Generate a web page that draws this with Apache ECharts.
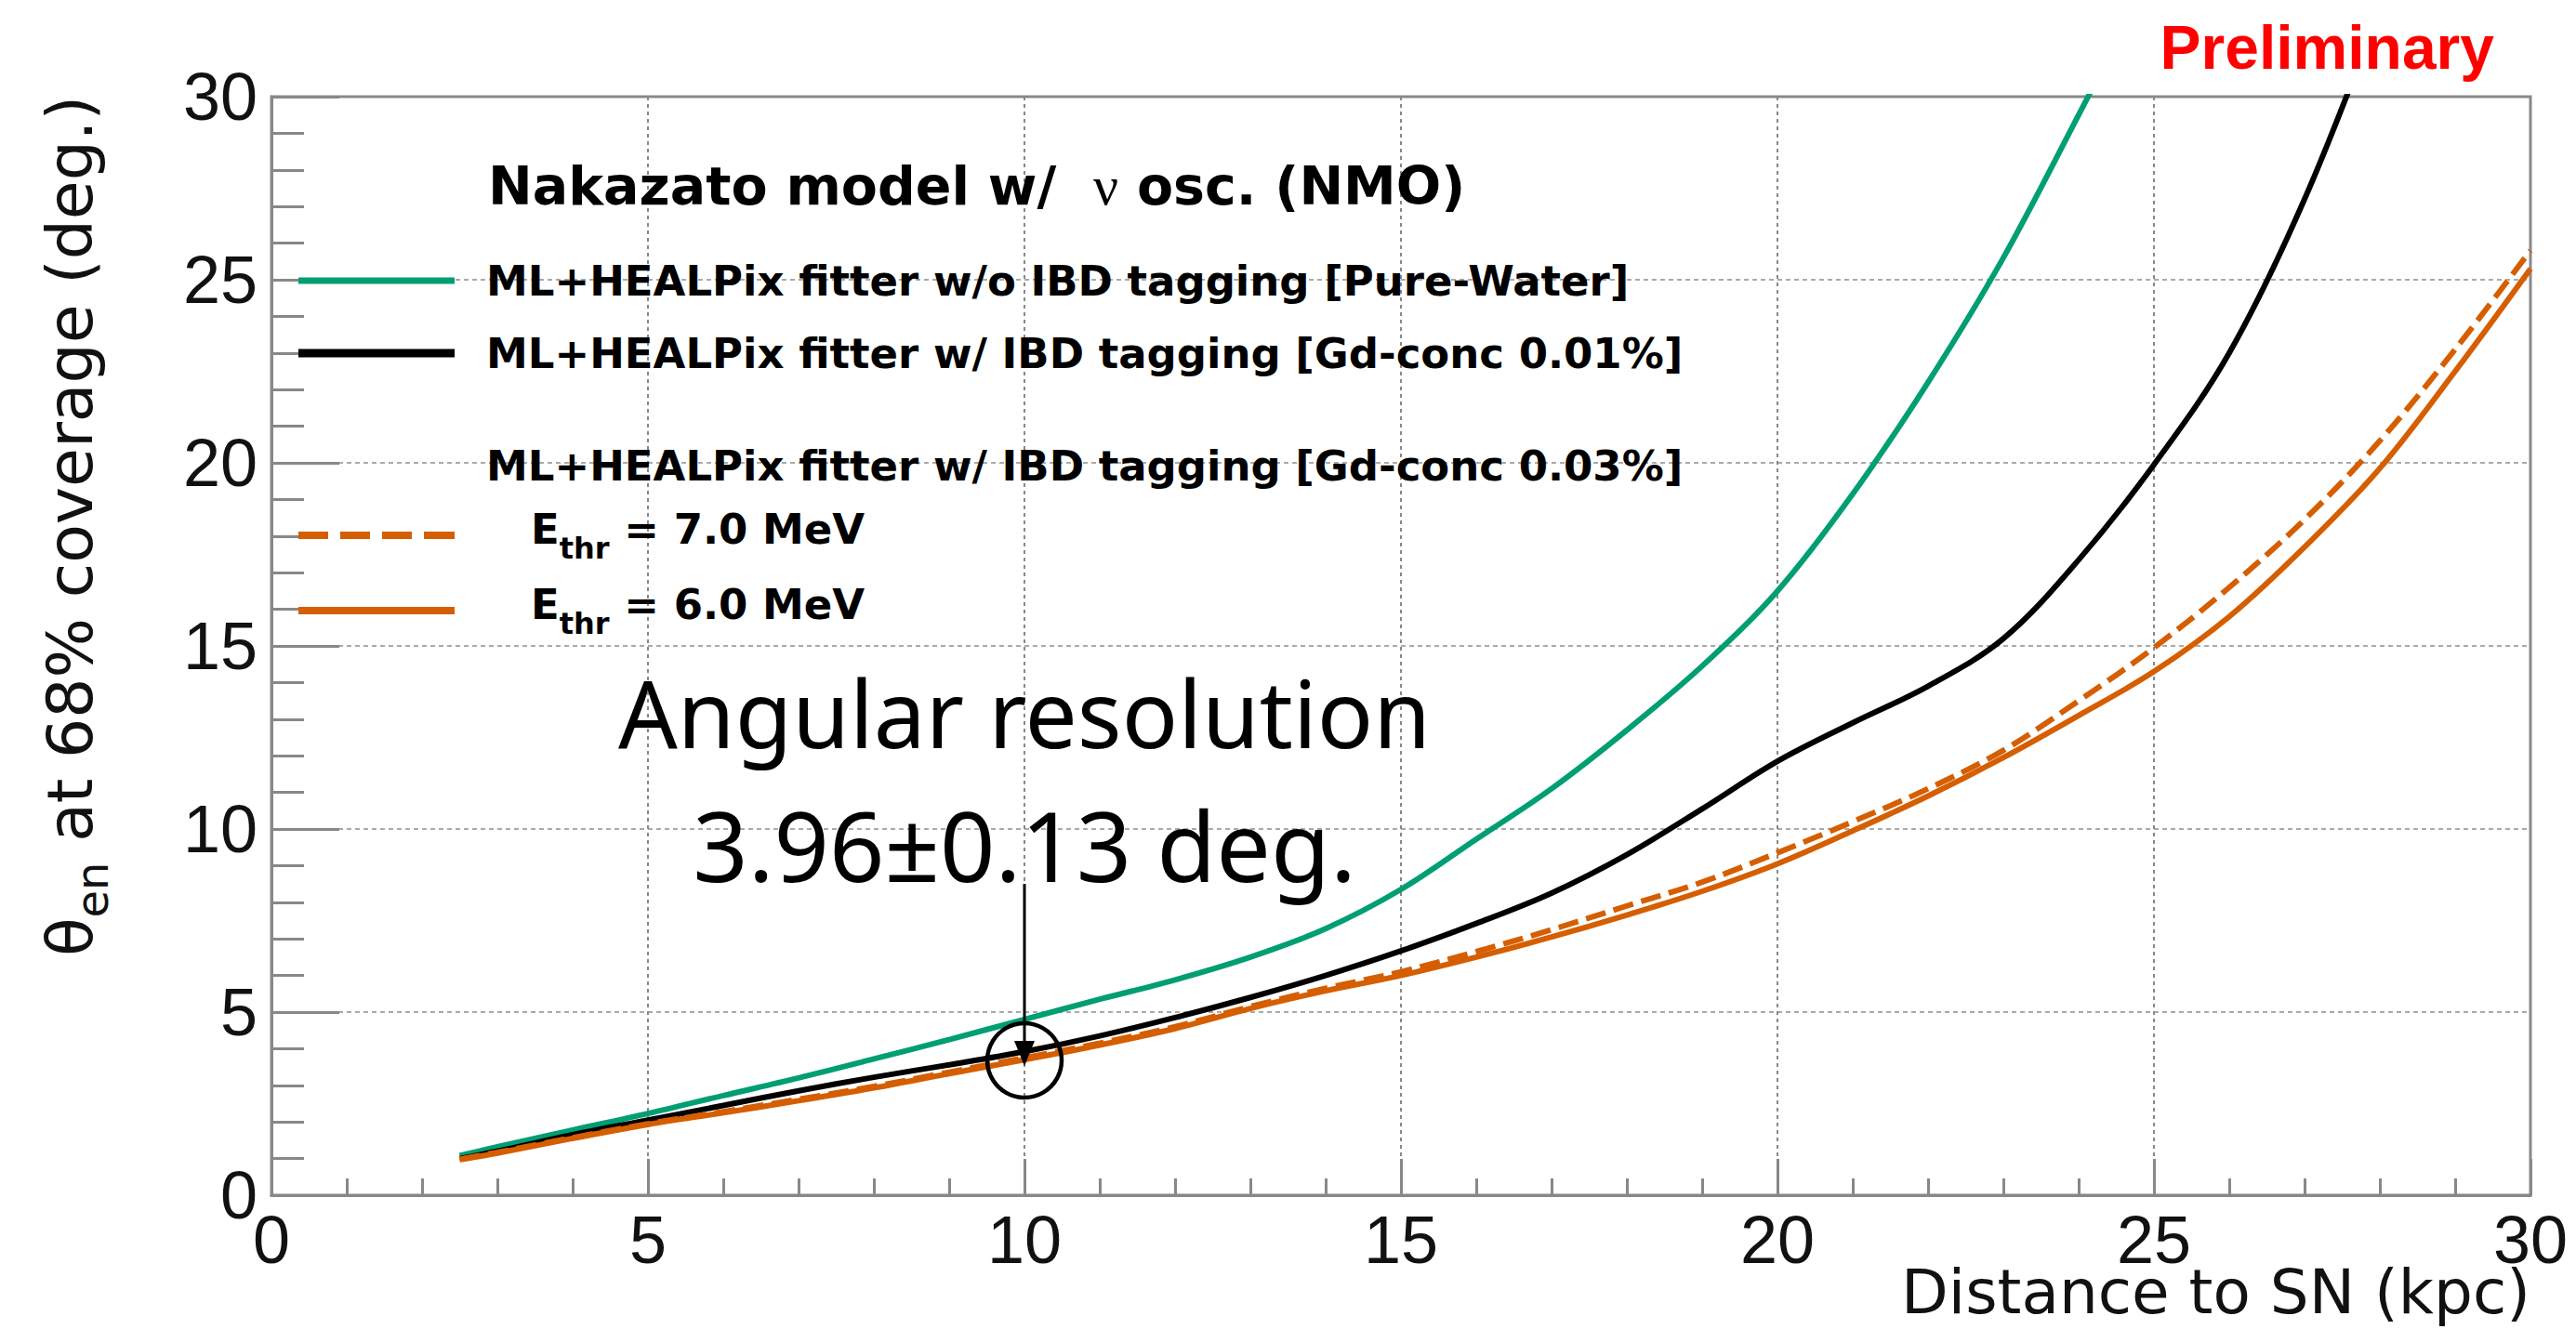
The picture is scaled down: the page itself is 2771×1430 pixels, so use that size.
<!DOCTYPE html>
<html>
<head>
<meta charset="utf-8">
<title>Angular resolution vs distance to SN</title>
<script src="https://cdn.jsdelivr.net/npm/echarts@6.0.0/dist/echarts.min.js"></script>
<style>
  html, body { margin: 0; padding: 0; background: #fff; }
  #chart { width: 2771px; height: 1430px; }
</style>
</head>
<body>
<div id="chart"></div>
<script>
// distance to the supernova (kpc), shared by every curve
const distanceKpc = [2.5, 3, 4, 5, 6, 7, 8, 9, 10, 11, 12, 13, 14, 15, 16, 17, 18, 19, 20, 21, 22, 23, 24, 25, 26, 27, 28, 29, 30];
// theta_en at 68% coverage (deg.)
const pureWater = [1.08, 1.32, 1.78, 2.23, 2.72, 3.2, 3.72, 4.25, 4.8, 5.35, 5.88, 6.5, 7.28, 8.35, 9.72, 11.1, 12.7, 14.45, 16.5, 19.15, 22.2, 25.6, 29.5, 33.5, null, null, null, null, null];
const gd001 = [1.0, 1.2, 1.65, 2.05, 2.45, 2.85, 3.22, 3.56, 3.92, 4.35, 4.85, 5.4, 6.0, 6.67, 7.42, 8.25, 9.3, 10.55, 11.85, 12.9, 13.9, 15.2, 17.35, 19.95, 23.0, 27.2, 32.4, null, null];
const gd003Ethr7 = [0.98, 1.17, 1.57, 1.95, 2.28, 2.62, 2.97, 3.36, 3.75, 4.15, 4.6, 5.15, 5.65, 6.1, 6.65, 7.25, 7.9, 8.55, 9.35, 10.2, 11.1, 12.15, 13.5, 14.95, 16.6, 18.45, 20.6, 23.1, 25.8];
const gd003Ethr6 = [0.97, 1.15, 1.55, 1.93, 2.25, 2.58, 2.93, 3.32, 3.7, 4.1, 4.55, 5.1, 5.58, 6.0, 6.5, 7.05, 7.65, 8.3, 9.05, 9.95, 10.9, 11.95, 13.1, 14.3, 15.8, 17.7, 19.85, 22.5, 25.3];

const seriesNames = [
  "ML+HEALPix fitter w/o IBD tagging [Pure-Water]",
  "ML+HEALPix fitter w/ IBD tagging [Gd-conc 0.01%]",
  "E_thr = 7.0 MeV",
  "E_thr = 6.0 MeV"
];
const seriesColors = ["#009e73", "#000000", "#d55e00", "#d55e00"];

// annotation: circled point at 10 kpc and the arrow pointing at it
const markedDistance = 10;
const markedValue = 3.68;
const arrowFrom = 8.5;
const arrowTo = 3.53;
const noteLine1 = 13.2;
const noteLine2 = 9.57;

const chart = echarts.init(document.getElementById("chart"), null, { renderer: "svg" });

function curve(i, values, dash) {
  return {
    name: seriesNames[i],
    type: "line",
    data: distanceKpc.map((d, k) => [d, values[k]]),
    symbol: "none",
    showSymbol: false,
    smooth: 0.35,
    lineStyle: { color: seriesColors[i], width: 6, type: dash || "solid" },
    itemStyle: { color: seriesColors[i] },
    emphasis: { disabled: true }
  };
}

const legendFont = { fontFamily: "DejaVu Sans", fontWeight: "bold", color: "#000" };
const dashIcon = "path://M0 0H32V8H0Z M45 0H77V8H45Z M90 0H122V8H90Z M135 0H168V8H135Z";

function legendRow(i, y, icon, iconH, textLeft) {
  const isEthr = seriesNames[i].indexOf("E_thr") === 0;
  const row = {
    data: [seriesNames[i]],
    left: 321,
    top: y - (isEthr ? 29.5 : 25),
    padding: 0,
    selectedMode: false,
    icon: icon,
    itemWidth: 168,
    itemHeight: iconH,
    itemStyle: { color: seriesColors[i], borderWidth: 0 },
    textStyle: Object.assign({ fontSize: 45, lineHeight: 50, padding: [0, 0, 0, textLeft] }, legendFont)
  };
  if (isEthr) {
    row.formatter = name => "{b|E}{s|thr}{b|" + name.slice(5) + "}";
    row.textStyle.rich = {
      b: Object.assign({ fontSize: 45, lineHeight: 45, verticalAlign: "top" }, legendFont),
      s: Object.assign({ fontSize: 32, lineHeight: 59, verticalAlign: "bottom" }, legendFont)
    };
  }
  return row;
}

const axisGray = "#888";

chart.setOption({
  animation: false,
  backgroundColor: "#fff",
  grid: {
    left: 292, right: 49, top: 104, bottom: 144,
    show: true, borderColor: axisGray, borderWidth: 3,
    outerBoundsMode: "none"
  },
  xAxis: {
    type: "value", min: 0, max: 30, interval: 5,
    axisLine: { lineStyle: { color: axisGray, width: 3 } },
    axisTick: { inside: true, length: 39, lineStyle: { color: axisGray, width: 3 } },
    minorTick: { show: true, splitNumber: 5, length: 18, lineStyle: { color: axisGray, width: 3 } },
    axisLabel: { fontFamily: "Liberation Sans", fontSize: 72, lineHeight: 58, color: "#111", margin: 19, showMinLabel: true, showMaxLabel: true },
    splitLine: { show: true, showMinLine: false, showMaxLine: false, lineStyle: { color: "#888", width: 2, type: [4, 4] } }
  },
  yAxis: {
    type: "value", min: 0, max: 30, interval: 5,
    axisLine: { show: true, lineStyle: { color: axisGray, width: 3 } },
    axisTick: { show: true, inside: true, length: 73, lineStyle: { color: axisGray, width: 3 } },
    minorTick: { show: true, splitNumber: 5, length: 35, lineStyle: { color: axisGray, width: 3 } },
    axisLabel: { fontFamily: "Liberation Sans", fontSize: 72, color: "#111", margin: 15, showMinLabel: true, showMaxLabel: true },
    splitLine: { show: true, showMinLine: false, showMaxLine: false, lineStyle: { color: "#aaa", width: 2, type: [5, 4] } }
  },
  legend: [
    legendRow(0, 302, "rect", 7, 29),
    legendRow(1, 380, "rect", 9, 29),
    legendRow(2, 576, dashIcon, 8, 77),
    legendRow(3, 657, "rect", 8, 77)
  ],
  series: [
    curve(0, pureWater),
    curve(1, gd001),
    curve(2, gd003Ethr7, [22, 9]),
    curve(3, gd003Ethr6)
  ]
});

const at = (x, y) => chart.convertToPixel({ gridIndex: 0 }, [x, y]);
const mark = at(markedDistance, markedValue);
const arrowTop = at(markedDistance, arrowFrom);
const arrowTip = at(markedDistance, arrowTo);
const note1 = at(markedDistance, noteLine1);
const note2 = at(markedDistance, noteLine2);
const axisEnd = at(30, 0);
const noteFont = { fontFamily: "Noto Sans", fill: "#000", align: "center", verticalAlign: "middle" };

chart.setOption({
  graphic: [
    {
      type: "text", x: 2683, y: 51, z: 100,
      style: { text: "Preliminary", fontFamily: "Liberation Sans", fontWeight: "bold", fontSize: 66, fill: "#ff0000", align: "right", verticalAlign: "middle" }
    },
    {
      type: "text", x: 82, y: 103, rotation: Math.PI / 2, z: 100,
      style: {
        text: "{a|θ}{s|en}{a| at 68% coverage (deg.)}",
        align: "right", verticalAlign: "middle",
        rich: {
          a: { fontFamily: "DejaVu Sans", fontSize: 68, lineHeight: 68, verticalAlign: "top", fill: "#111" },
          s: { fontFamily: "DejaVu Sans", fontSize: 48, lineHeight: 82, verticalAlign: "bottom", fill: "#111" }
        }
      }
    },
    {
      type: "text", x: axisEnd[0], y: axisEnd[1] + 104, z: 100,
      style: { text: "Distance to SN (kpc)", fontFamily: "DejaVu Sans", fontSize: 66, lineHeight: 64, fill: "#111", align: "right", verticalAlign: "middle" }
    },
    {
      type: "text", x: 525, y: 200, z: 100,
      style: {
        text: "{h|Nakazato model w/  }{n|ν}{h| osc. (NMO)}",
        verticalAlign: "middle",
        rich: {
          h: { fontFamily: "DejaVu Sans", fontWeight: "bold", fontSize: 57, fill: "#000" },
          n: { fontFamily: "Liberation Serif", fontSize: 60, fill: "#000" }
        }
      }
    },
    {
      type: "text", x: 523, y: 501, z: 100,
      style: { text: "ML+HEALPix fitter w/ IBD tagging [Gd-conc 0.03%]", fontFamily: "DejaVu Sans", fontWeight: "bold", fontSize: 45, fill: "#000", verticalAlign: "middle" }
    },
    { type: "text", x: note1[0], y: note1[1], z: 100, style: Object.assign({ text: "Angular resolution", fontSize: 100 }, noteFont) },
    { type: "text", x: note2[0], y: note2[1], z: 100, style: Object.assign({ text: "3.96±0.13 deg.", fontSize: 104 }, noteFont) },
    {
      type: "line", z: 100,
      shape: { x1: arrowTop[0], y1: arrowTop[1], x2: arrowTip[0], y2: arrowTip[1] - 24 },
      style: { stroke: "#000", lineWidth: 3 }
    },
    {
      type: "polygon", z: 100,
      shape: { points: [[arrowTip[0] - 11, arrowTip[1] - 27], [arrowTip[0] + 11, arrowTip[1] - 27], [arrowTip[0], arrowTip[1]]] },
      style: { fill: "#000" }
    },
    {
      type: "circle", z: 100,
      shape: { cx: mark[0], cy: mark[1], r: 40 },
      style: { fill: "none", stroke: "#000", lineWidth: 4.5 }
    }
  ]
});
</script>
</body>
</html>
